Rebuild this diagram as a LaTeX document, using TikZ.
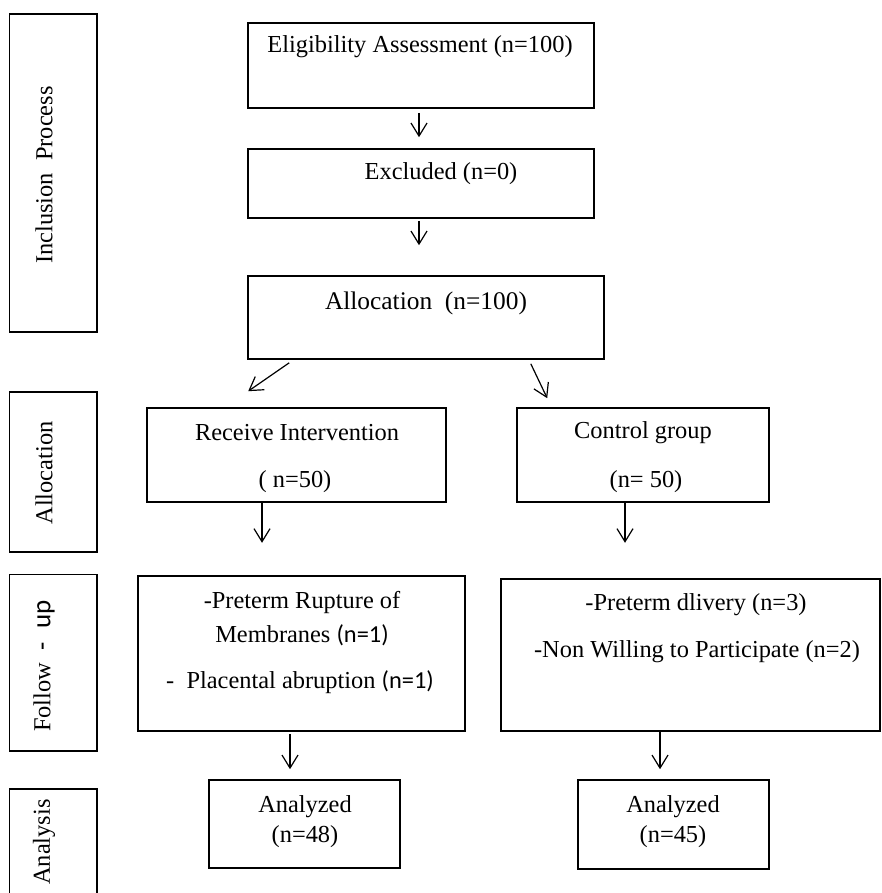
\documentclass[tikz,border=0pt]{standalone}
\usepackage{fontspec}
\setmainfont{Liberation Serif}
\newfontfamily\calibri{Carlito}
\usetikzlibrary{arrows.meta,calc}
\tikzset{
  box/.style={draw, line width=0.8pt, inner sep=0pt},
  txt/.style={inner sep=0pt, align=center, font=\fontsize{12.2}{15}\selectfont},
  side/.style={txt, rotate=90},
  arr/.style={line width=0.6pt, -{Straight Barb[length=6.5pt,width=8pt]}}
}
\begin{document}
\begin{tikzpicture}[x=0.5pt,y=-0.5pt]
\useasboundingbox (0,0) rectangle (882,893);
\clip (0,0) rectangle (882,893);
\node[box, minimum width=43.75pt, minimum height=159pt] (inclS) at (53.25,173) {};
\node[box, minimum width=43.75pt, minimum height=80pt] (allocS) at (53.25,472) {};
\node[box, minimum width=43.75pt, minimum height=88.25pt] (fupS) at (53.25,662.75) {};
\node[box, minimum width=43.75pt, minimum height=53pt] (anaS) at (53.25,842) {};
\node[side] (inclL) at (44,175) {Inclusion\ \ Process};
\node[side] (allocL) at (44,473) {Allocation};
\node[side] (fupL) at (44,666) {Follow\hspace{6pt}{\calibri\fontsize{13.5}{15}\selectfont-\hspace{7pt}up}};
\node[side] (anaL) at (44,842) {Analysis};
\node[box, minimum width=173pt, minimum height=42.5pt] (elig) at (421,65.5) {};
\node[box, minimum width=173pt, minimum height=34.5pt] (excl) at (421,183.5) {};
\node[box, minimum width=178pt, minimum height=41.5pt] (alloc) at (426,317.5) {};
\node[box, minimum width=149.5pt, minimum height=47pt] (recv) at (296.5,455) {};
\node[box, minimum width=126pt, minimum height=47pt] (ctrl) at (643,455) {};
\node[box, minimum width=163.5pt, minimum height=77.5pt] (fupLeft) at (301.5,653.5) {};
\node[box, minimum width=189.5pt, minimum height=76pt] (fupRight) at (690.5,655) {};
\node[box, minimum width=95.5pt, minimum height=44pt] (anaLeft) at (304.5,824) {};
\node[box, minimum width=95.5pt, minimum height=44.5pt] (anaRight) at (673.5,824.5) {};
\node[txt] (eligT) at (420,47) {Eligibility Assessment (n=100)};
\node[txt] (exclT) at (441,174) {Excluded (n=0)};
\node[txt, font=\fontsize{12.7}{15}\selectfont] (allocT) at (426,303) {Allocation\ \ (n=100)};
\node[txt] (recvT1) at (297,433) {Receive Intervention};
\node[txt] (recvT2) at (295,482) {( n=50)};
\node[txt] (ctrlT1) at (643,433) {Control group};
\node[txt] (ctrlT2) at (646,482) {(n= 50)};
\node[txt] (fupLT1) at (302,602) {-Preterm Rupture of};
\node[txt] (fupLT2) at (302,635) {Membranes {\calibri(n=1)}};
\node[txt] (fupLT3) at (300,682) {-\ \ Placental abruption {\calibri(n=1)}};
\node[txt] (fupRT1) at (696,605) {-Preterm dlivery (n=3)};
\node[txt] (fupRT2) at (697,652) {-Non Willing to Participate (n=2)};
\node[txt] (anaLT) at (305,822) {Analyzed\\(n=48)};
\node[txt] (anaRT) at (673,822) {Analyzed\\(n=45)};
\draw[arr] ($(elig.south)+(-2,4)$) -- ($(excl.north)+(-2,-11)$);
\draw[arr] ($(excl.south)+(-2,2)$) -- ($(alloc.north)+(-7,-30)$);
\draw[arr] ($(alloc.south west)+(42,3)$) -- ($(recv.north west)+(102,-16)$);
\draw[arr] ($(alloc.south east)+(-74,4)$) -- ($(ctrl.north west)+(31,-9)$);
\draw[arr] ($(recv.south)+(-34.5,0)$) -- ++(0,40);
\draw[arr] ($(ctrl.south)+(-18,0)$) -- ++(0,40);
\draw[arr] ($(fupLeft.south)+(-11.5,2)$) -- ($(anaLeft.north)+(-14.5,-10)$);
\draw[arr] ($(fupRight.south)+(-30.5,0)$) -- ($(anaRight.north)+(-13.5,-10)$);
\end{tikzpicture}
\end{document}
